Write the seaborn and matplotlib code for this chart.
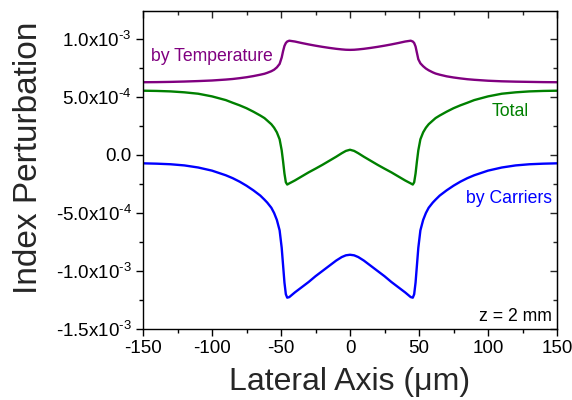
import numpy as np
import pandas as pd
import matplotlib
matplotlib.use("Agg")
import matplotlib.pyplot as plt
import seaborn as sns
from matplotlib.ticker import FixedLocator, MultipleLocator

# ---- data, index perturbation in units of 1e-3 ----
x_um = [-150, -140, -130, -120, -110, -100, -90, -85, -80, -75, -70, -65, -62, -60, -57, -55, -53, -51,
        -49.5, -48.5, -47.5, -46.5, -45.5, -44, -40, -35, -30, -25, -20, -15, -10, -6, -3, 0,
        3, 6, 10, 15, 20, 25, 30, 35, 40, 44, 45.5, 46.5, 47.5, 48.5, 49.5,
        51, 53, 55, 57, 60, 62, 65, 70, 75, 80, 85, 90, 100, 110, 120, 130, 140, 150]

by_temperature = [0.627, 0.628, 0.630, 0.633, 0.637, 0.642, 0.650, 0.655, 0.662, 0.670, 0.680, 0.692, 0.700, 0.708,
                  0.722, 0.735, 0.755, 0.785, 0.840, 0.895, 0.940, 0.965, 0.978, 0.985, 0.978, 0.965, 0.953,
                  0.942, 0.932, 0.923, 0.915, 0.910, 0.907, 0.906,
                  0.907, 0.910, 0.915, 0.923, 0.932, 0.942, 0.953, 0.965, 0.978, 0.985, 0.978, 0.965, 0.935,
                  0.880, 0.825, 0.790, 0.765, 0.745, 0.730, 0.712, 0.702, 0.692, 0.678, 0.668, 0.660, 0.653,
                  0.648, 0.640, 0.635, 0.632, 0.630, 0.628, 0.627]

total = [0.554, 0.552, 0.548, 0.540, 0.528, 0.505, 0.473, 0.450, 0.428, 0.403, 0.373, 0.340, 0.318, 0.297,
         0.265, 0.235, 0.195, 0.135, 0.040, -0.055, -0.160, -0.235, -0.255, -0.245, -0.220, -0.185, -0.150,
         -0.118, -0.085, -0.050, -0.015, 0.015, 0.035, 0.045,
         0.035, 0.015, -0.015, -0.050, -0.085, -0.118, -0.150, -0.185, -0.220, -0.245, -0.255, -0.235,
         -0.160, -0.055, 0.040, 0.135, 0.195, 0.235, 0.265, 0.297, 0.318, 0.340, 0.373, 0.403, 0.428,
         0.450, 0.473, 0.505, 0.528, 0.540, 0.548, 0.552, 0.554]

by_carriers = [-0.072, -0.075, -0.080, -0.090, -0.108, -0.135, -0.175, -0.200, -0.230, -0.265, -0.305, -0.350,
               -0.385, -0.410, -0.455, -0.500, -0.560, -0.650, -0.800, -0.950, -1.100, -1.200, -1.230, -1.225,
               -1.185, -1.140, -1.095, -1.045, -1.000, -0.955, -0.910, -0.880, -0.865, -0.860,
               -0.865, -0.880, -0.910, -0.955, -1.000, -1.045, -1.095, -1.140, -1.185, -1.225, -1.230, -1.200,
               -1.100, -0.950, -0.800, -0.650, -0.560, -0.500, -0.455, -0.410, -0.385, -0.350, -0.305, -0.265,
               -0.230, -0.200, -0.175, -0.135, -0.108, -0.090, -0.080, -0.075, -0.072]

series_names = ["by Temperature", "Total", "by Carriers"]
series_colors = ["#800080", "#008000", "#0000FF"]

ytick_values = [1.0e-3, 5.0e-4, 0.0, -5.0e-4, -1.0e-3, -1.5e-3]
ytick_labels = ["1.0x10$^{\u20103}$", "5.0x10$^{\u20104}$", "0.0", "-5.0x10$^{\u20104}$",
                "-1.0x10$^{\u20103}$", "-1.5x10$^{\u20103}$"]
xtick_values = [-150, -100, -50, 0, 50, 100, 150]

# ---- build long table ----
frames = []
for name, vals in zip(series_names, [by_temperature, total, by_carriers]):
    frames.append(pd.DataFrame({"x": x_um, "y": np.array(vals) * 1e-3, "series": name}))
df = pd.concat(frames, ignore_index=True)

sns.set_style("ticks")
plt.rcParams["font.family"] = ["Liberation Sans", "DejaVu Sans"]
plt.rcParams["mathtext.default"] = "regular"
plt.rcParams["axes.unicode_minus"] = False

fig = plt.figure(figsize=(5.72, 4.0), dpi=100)
ax = fig.add_axes([0.25, 0.1775, 0.7238, 0.795])

sns.lineplot(data=df, x="x", y="y", hue="series", hue_order=series_names,
             palette=series_colors, estimator=None, sort=False, linewidth=1.7,
             legend=False, ax=ax)

ax.set_xlim(-150, 150)
ax.set_ylim(-1.5e-3, 1.241e-3)

ax.xaxis.set_major_locator(FixedLocator(xtick_values))
ax.xaxis.set_minor_locator(MultipleLocator(25))
ax.yaxis.set_major_locator(FixedLocator(ytick_values))
ax.set_yticklabels(ytick_labels)
ax.yaxis.set_minor_locator(MultipleLocator(2.5e-4))

for sp in ax.spines.values():
    sp.set_visible(True)
    sp.set_linewidth(1.0)
    sp.set_color("black")

ax.tick_params(which="both", direction="out", colors="black", labelsize=13.5, width=1.0,
               top=False, right=False)
ax.tick_params(which="major", length=5, pad=3)
ax.tick_params(which="minor", length=3)

# mirrored inward ticks on top and right
ax_top = ax.secondary_xaxis("top")
ax_top.xaxis.set_major_locator(FixedLocator(xtick_values))
ax_top.xaxis.set_minor_locator(MultipleLocator(25))
ax_top.tick_params(which="both", direction="in", labeltop=False, width=1.0)
ax_top.tick_params(which="major", length=5)
ax_top.tick_params(which="minor", length=3)
ax_right = ax.secondary_yaxis("right")
ax_right.yaxis.set_major_locator(FixedLocator(ytick_values))
ax_right.yaxis.set_minor_locator(MultipleLocator(2.5e-4))
ax_right.tick_params(which="both", direction="in", labelright=False, width=1.0)
ax_right.tick_params(which="major", length=5)
ax_right.tick_params(which="minor", length=3)

ax.set_xlabel("Lateral Axis (\u03bcm)", fontsize=23)
ax.set_ylabel("Index Perturbation", fontsize=24)
ax.xaxis.set_label_coords(0.5, -0.118)
ax.yaxis.set_label_coords(-0.24, 0.537)

ax.text(-144.2, 8.1e-4, "by Temperature", color=series_colors[0], fontsize=12.7, va="baseline", ha="left")
ax.text(129.7, 3.36e-4, "Total", color=series_colors[1], fontsize=12.7, va="baseline", ha="right")
ax.text(146.2, -4.11e-4, "by Carriers", color=series_colors[2], fontsize=12.7, va="baseline", ha="right")
ax.text(146.2, -1.428e-3, "z = 2 mm", color="black", fontsize=12.7, va="baseline", ha="right")

fig.savefig("out.png", dpi=100)
